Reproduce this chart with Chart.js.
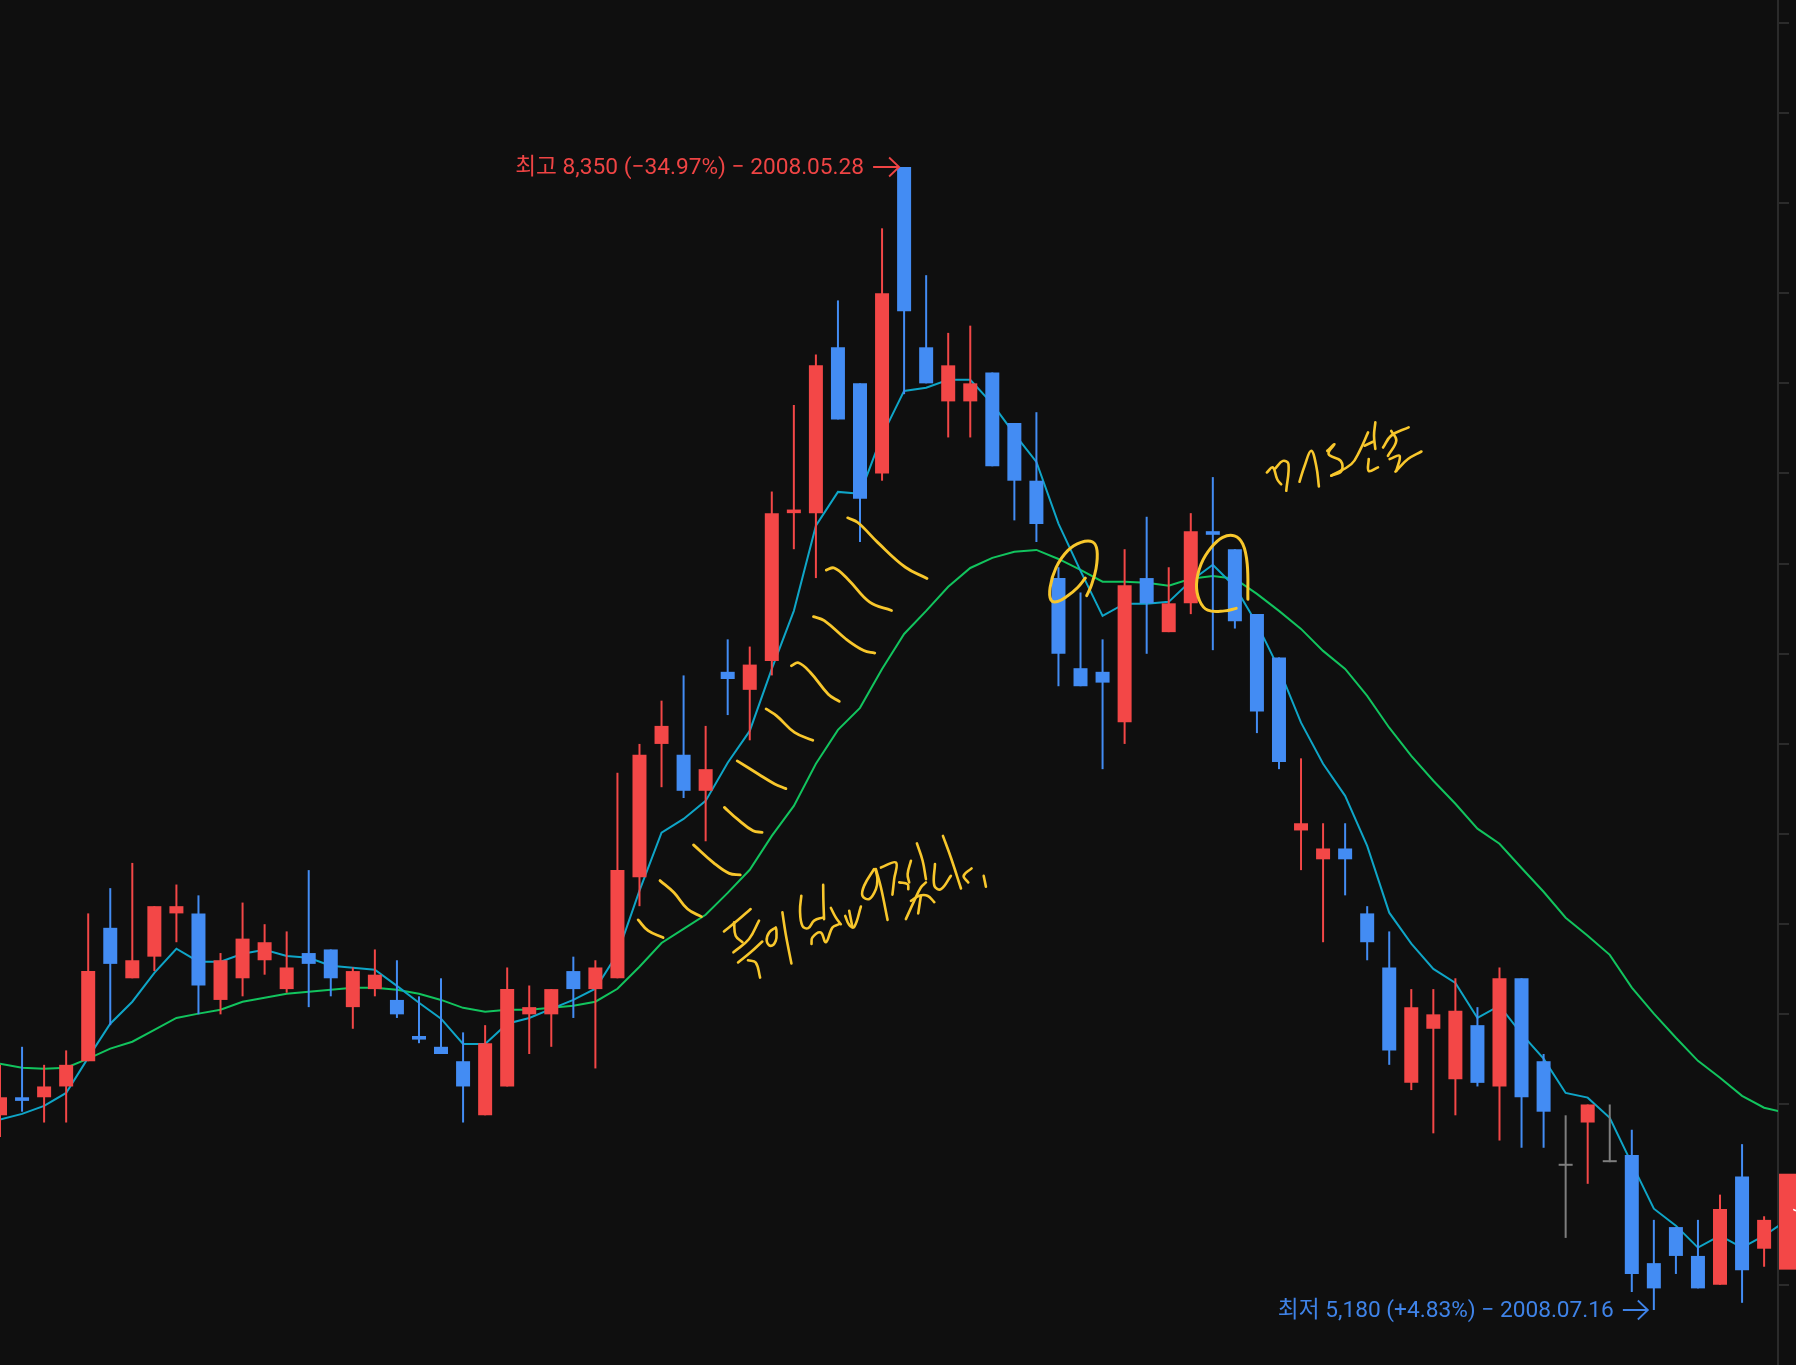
<!DOCTYPE html>
<html><head><meta charset="utf-8"><title>Candlestick chart</title>
<style>html,body{margin:0;padding:0;background:#0f0f0f;overflow:hidden}canvas{display:block}</style>
<script src="https://cdn.jsdelivr.net/npm/chart.js@4"></script></head>
<body><canvas id="c" width="1796" height="1365"></canvas>
<script>
const opens=[5720,5770,5770,5800,5870,6240,6100,6160,6280,6280,6040,6100,6150,6070,6170,6180,6020,6070,6040,5940,5910,5870,5720,5800,6000,6000,6120,6070,6100,6380,6750,6720,6620,6950,6900,6980,7390,7390,7850,7750,7500,8350,7850,7700,7700,7780,7640,7480,7210,6960,6950,6810,7210,7060,7140,7340,7290,7110,6990,6510,6430,6460,6280,6130,5810,5960,5820,5970,5800,6100,5870,5580,5700,5590,5610,5310,5410,5330,5250,5550,5350];
const closes=[5770,5760,5800,5860,6120,6140,6150,6300,6300,6080,6150,6210,6200,6130,6140,6100,6120,6110,6000,5930,5890,5800,5920,6070,6020,6070,6070,6130,6400,6720,6800,6620,6680,6930,6970,7390,7400,7800,7650,7430,8000,7950,7750,7800,7750,7520,7480,7360,7000,6910,6920,7190,7140,7140,7340,7330,7090,6840,6700,6530,6460,6430,6200,5900,6020,6000,6010,5810,6100,5770,5730,5580,5750,5590,5280,5240,5330,5240,5460,5290,5430];
const highs=[5860,5910,5860,5900,6280,6350,6420,6300,6360,6330,6170,6310,6250,6230,6400,6180,6130,6180,6150,6050,6100,5950,5970,6130,6080,6070,6160,6150,6670,6750,6870,6940,6800,7040,7020,7450,7690,7830,7980,7750,8180,8350,8050,7890,7910,7780,7640,7670,7240,7170,7040,7290,7380,7240,7390,7490,7290,7110,6990,6710,6530,6530,6300,6230,6070,6070,6100,6020,6130,6100,5890,5720,5750,5750,5680,5430,5410,5430,5500,5640,5440];
const lows=[5660,5730,5700,5700,5870,5970,6100,6120,6200,6000,6000,6050,6110,6060,6020,6050,5960,6050,5990,5920,5890,5700,5720,5800,5890,5910,5990,5850,6100,6300,6630,6600,6480,6830,6760,6940,7290,7210,7650,7310,7480,7720,7750,7600,7600,7520,7370,7310,6910,6910,6680,6750,7000,7060,7110,7010,7070,6780,6680,6400,6200,6330,6150,5860,5790,5670,5720,5800,5650,5630,5630,5380,5530,5590,5230,5180,5280,5240,5250,5200,5300];
const maShort=[5708,5724,5746,5782,5880,5974,6035,6115,6182,6146,6146,6168,6179,6162,6157,6135,6129,6124,6079,6032,5988,5918,5918,5974,5990,6015,6040,6071,6168,6343,6504,6542,6592,6698,6786,6958,7119,7355,7449,7444,7605,7729,7738,7760,7760,7693,7610,7532,7361,7230,7105,7139,7139,7144,7202,7247,7186,7083,6958,6809,6695,6606,6467,6282,6196,6126,6087,5990,6024,5946,5877,5782,5769,5713,5586,5461,5414,5353,5386,5353,5386,5428];
const maLong=[5863,5852,5849,5852,5877,5905,5924,5957,5990,6002,6013,6035,6046,6057,6063,6068,6074,6074,6068,6057,6040,6018,6007,6013,6013,6018,6024,6035,6071,6132,6198,6237,6276,6337,6401,6495,6578,6695,6789,6850,6958,7055,7119,7186,7238,7266,7283,7288,7263,7233,7200,7200,7197,7189,7208,7216,7208,7166,7119,7069,7008,6958,6883,6795,6717,6648,6584,6515,6473,6406,6340,6268,6218,6165,6074,6002,5935,5871,5824,5774,5741,5727];
const yTickValues=[8750,8500,8250,8000,7750,7500,7250,7000,6750,6500,6250,6000,5750,5500,5250];
const highText="최고 8,350 (−34.97%) − 2008.05.28";
const lowText="최저 5,180 (+4.83%) − 2008.07.16";
const highIndex=41, highPrice=8350, lowIndex=75, lowPrice=5180;
const lastBoxHigh=5558, lastBoxLow=5292, lastLabel="5,430";
const hatchStrokes=[
[[28.94,6262],[29.39,6232],[30.07,6213]],
[[29.93,6371],[30.56,6338],[31.18,6292],[31.81,6271]],
[[31.45,6470],[32.35,6421],[33.07,6391],[33.57,6387]],
[[32.85,6574],[33.43,6542],[34.15,6509],[34.56,6505]],
[[33.43,6703],[34.4,6666],[35.13,6639],[35.64,6626]],
[[34.74,6847],[35.22,6828],[36.03,6782],[36.86,6760]],
[[35.89,6967],[36.21,6975],[36.75,6948],[37.56,6888],[38.06,6868]],
[[36.89,7103],[37.38,7092],[38.36,7041],[39.17,7009],[39.67,7002]],
[[37.47,7232],[37.83,7238],[38.45,7207],[39.44,7143],[40.43,7120]],
[[38.44,7377],[38.9,7364],[39.8,7309],[41.06,7240],[42.04,7209]]];
const circleStrokes=[
[[49.22,7210],[48.87,7184],[48.42,7161],[47.96,7145],[47.66,7149],[47.62,7184],[47.89,7239],[48.42,7286],[49.02,7309],[49.55,7310],[49.75,7286],[49.7,7235],[49.48,7188],[49.28,7161]],
[[56.06,7126],[55.53,7119],[54.77,7121],[54.4,7147],[54.26,7193],[54.47,7249],[54.93,7295],[55.45,7323],[55.98,7327],[56.36,7304],[56.56,7249],[56.59,7151]]];
const noteStrokesA=[
[[32.83,6230],[33.44,6260],[34.04,6292]],
[[33.29,6255],[33.36,6218],[33.67,6200]],
[[33.26,6172],[33.97,6209],[34.42,6260]],
[[33.47,6144],[34.04,6172],[34.57,6202]],
[[33.92,6150],[34.27,6144],[34.47,6102]],
[[35.18,6241],[34.88,6227],[34.77,6204],[34.95,6190],[35.18,6204],[35.21,6232],[35.18,6241]],
[[35.48,6283],[35.63,6223],[35.89,6141]],
[[36.34,6329],[36.28,6287],[36.39,6245],[36.65,6239],[36.92,6260],[37.34,6269]],
[[37.33,6359],[37.34,6315],[37.37,6264]],
[[36.8,6195],[36.84,6213],[37.22,6227],[37.45,6200],[37.75,6241],[38.05,6250]],
[[37.68,6295],[37.9,6269],[38.13,6250]],
[[38.33,6273],[38.51,6248],[38.74,6243],[39.04,6299]],
[[38.51,6287],[38.66,6241]],
[[39.64,6403],[39.19,6357],[39.11,6329],[39.42,6320],[39.72,6347],[39.79,6375],[39.72,6398]],
[[39.72,6403],[39.95,6352],[40.25,6262]],
[[39.95,6407],[40.63,6421],[40.55,6375],[40.47,6332]],
[[40.78,6366],[41.16,6361],[41.19,6347]],
[[41.31,6426],[41.16,6389],[41.23,6366]],
[[41.58,6474],[41.84,6426],[41.99,6375]],
[[41.08,6264],[41.46,6315],[41.76,6352],[41.99,6366]],
[[41.31,6315],[41.69,6329],[42.06,6329],[42.37,6311]],
[[41.76,6329],[41.64,6280]],
[[42.4,6417],[42.37,6357],[42.67,6347],[43.12,6384]],
[[42.76,6495],[43.12,6435],[43.58,6349]],
[[44.06,6405],[43.7,6384],[43.91,6366]],
[[44.61,6384],[44.71,6354]]];
const noteStrokesB=[
[[57.45,7503],[57.72,7517],[57.92,7484],[58.1,7470]],
[[57.83,7514],[58.18,7535],[58.43,7526],[58.33,7452]],
[[58.93,7477],[59.16,7521],[59.46,7563],[59.69,7521],[59.81,7464]],
[[60.19,7563],[60.52,7581],[60.25,7554],[60.8,7535],[60.83,7507],[60.37,7494]],
[[60.37,7494],[61.28,7526],[61.66,7563],[62.04,7614]],
[[62.37,7642],[62.31,7605],[62.37,7568]],
[[61.88,7577],[62.26,7588]],
[[62.07,7540],[62.07,7507],[62.49,7517]],
[[62.72,7572],[63.09,7605],[63.88,7628]],
[[63.09,7618],[63.32,7591],[62.94,7549]],
[[63.28,7505],[63.85,7540],[64.46,7561]],
[[63.02,7540],[63.47,7549],[63.32,7507]]];

const RED="#f34747",BLUE="#438cf3",GRAY="#7e7e7e",CYAN="#0fa5c7",GREEN="#12c45e",INK="#f8c72c",AXIS="#2b2b2b";
const candleColor=opens.map((o,i)=>closes[i]>o?RED:closes[i]<o?BLUE:GRAY);
const xy=(arr)=>arr.map((v,i)=>({x:i,y:v}));
const range=(a,b)=>a.map((v,i)=>({x:i,y:[v,b[i]]}));
const inkSet=(s,w)=>({type:'line',data:s.map(p=>({x:p[0],y:p[1]})),borderColor:INK,borderWidth:w,borderCapStyle:'round',borderJoinStyle:'round',pointRadius:0,tension:0.4,order:0,clip:false});
const datasets=[
 {type:'line',data:xy(maLong),borderColor:GREEN,borderWidth:2,pointRadius:0,tension:0,order:6},
 {type:'line',data:xy(maShort),borderColor:CYAN,borderWidth:2,pointRadius:0,tension:0,order:5},
 {type:'bar',data:range(lows,highs),backgroundColor:candleColor,barThickness:2,grouped:false,inflateAmount:0,order:2},
 {type:'bar',data:range(opens,closes),backgroundColor:candleColor,barThickness:14,grouped:false,minBarLength:2,inflateAmount:0,order:1},
 ...hatchStrokes.map(s=>inkSet(s,2.8)),
 ...circleStrokes.map(s=>inkSet(s,3)),
 ...noteStrokesA.map(s=>inkSet(s,2.6)),
 ...noteStrokesB.map(s=>inkSet(s,2.6))
];
function arrow(ctx,x1,x2,y){ctx.beginPath();ctx.moveTo(x1,y);ctx.lineTo(x2,y);ctx.moveTo(x2-10,y-9.5);ctx.lineTo(x2,y);ctx.lineTo(x2-10,y+9.5);ctx.stroke();}
const annot={id:'annot',afterDraw(ch){
 const c=ch.ctx,X=ch.scales.x,Y=ch.scales.y;
 c.save();
 c.font='400 22.7px Roboto,"Noto Sans CJK KR",sans-serif';c.textAlign='right';c.textBaseline='alphabetic';c.lineWidth=1.8;
 let ax=X.getPixelForValue(highIndex)-5,ay=Y.getPixelForValue(highPrice);
 c.fillStyle="#ef4444";c.strokeStyle="#ef4444";c.fillText(highText,ax-35,ay+7);arrow(c,ax-26,ax,ay);
 ax=X.getPixelForValue(lowIndex)-6;ay=Y.getPixelForValue(lowPrice);
 c.fillStyle="#3f83e8";c.strokeStyle="#3f83e8";c.fillText(lowText,ax-34,ay+7);arrow(c,ax-25,ax,ay);
 const top=Y.getPixelForValue(lastBoxHigh),bot=Y.getPixelForValue(lastBoxLow);
 c.fillStyle=RED;c.fillRect(1779,top,17,bot-top);
 c.beginPath();c.rect(1779,top,17,bot-top);c.clip();
 c.translate(1801,(top+bot)/2);c.rotate(Math.PI/2);c.textAlign='center';c.textBaseline='middle';c.fillStyle="#ffffff";c.font='400 20px Roboto,sans-serif';c.fillText(lastLabel,0,0);
 c.restore();
}};
new Chart(document.getElementById('c'),{
 data:{datasets},
 plugins:[annot],
 options:{responsive:false,animation:false,devicePixelRatio:1,events:[],
  layout:{padding:0},
  plugins:{legend:{display:false},tooltip:{enabled:false},title:{display:false}},
  scales:{
   x:{type:'linear',display:false,min:0,max:80.63,offset:false},
   y:{type:'linear',position:'right',min:5027.5,max:8813.2,
      afterFit(s){s.width=18;},
      afterBuildTicks(s){s.ticks=yTickValues.map(v=>({value:v}));},
      border:{display:true,color:AXIS,width:2},
      grid:{display:true,drawOnChartArea:false,drawTicks:true,tickLength:11,color:AXIS,lineWidth:2},
      ticks:{display:false,autoSkip:false}}
  }}
});
</script></body></html>
